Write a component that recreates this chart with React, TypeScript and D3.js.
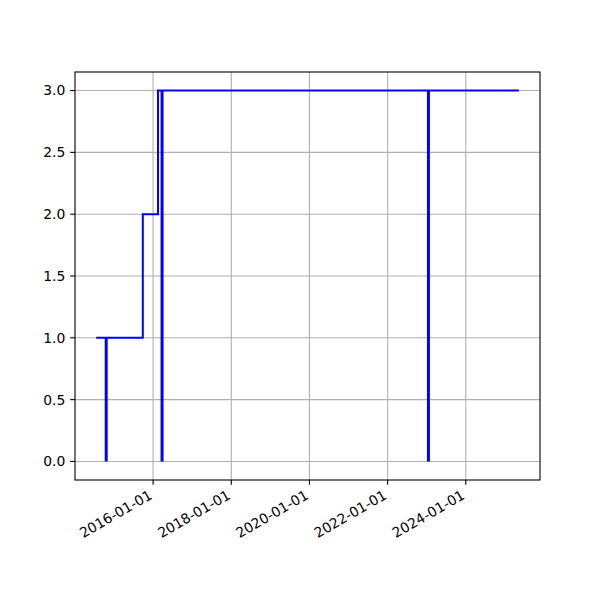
import React from "react";
import * as d3 from "d3";

const stepDates = ["2014-07-18", "2015-09-27", "2016-02-16", "2025-05-11"];
const stepValues = [1, 2, 3, 3];
const spikeDates = ["2014-10-20", "2016-03-25", "2023-01-17"];
const spikeTops = [1, 3, 3];
const yTicks = [0, 0.5, 1.0, 1.5, 2.0, 2.5, 3.0];
const xTickLabels = ["2016-01-01", "2018-01-01", "2020-01-01", "2022-01-01", "2024-01-01"];

const W = 600, H = 600;
const L = 75, R = 540, T = 72, B = 480;
const FONT = "DejaVu Sans, sans-serif";
const FS = 13.9;

export default function App() {
  const parse = d3.utcParse("%Y-%m-%d");
  const sd = stepDates.map((d) => parse(d)!);
  const kd = spikeDates.map((d) => parse(d)!);
  const all = [...sd, ...kd];
  const mn = d3.min(all)!.getTime();
  const mx = d3.max(all)!.getTime();
  const pad = (mx - mn) * 0.05;
  const x = d3.scaleUtc().domain([new Date(mn - pad), new Date(mx + pad)]).range([L, R]);
  const y = d3.scaleLinear().domain([-0.15, 3.15]).range([B, T]);

  const stepData = sd.map((d, i) => [d, stepValues[i]] as [Date, number]);
  const stepPath = d3
    .line<[Date, number]>()
    .x((d) => x(d[0]))
    .y((d) => y(d[1]))
    .curve(d3.curveStepAfter)(stepData)!;

  const xt = xTickLabels.map((s) => parse(s)!);

  return (
    <svg width={W} height={H} style={{ position: "absolute", left: 0, top: 0, background: "#fff" }}>
      <rect x={0} y={0} width={W} height={H} fill="#fff" />
      {/* grid */}
      {xt.map((d, i) => (
        <line key={"gx" + i} x1={x(d)} x2={x(d)} y1={T} y2={B} stroke="#b0b0b0" strokeWidth={1.1} />
      ))}
      {yTicks.map((v, i) => (
        <line key={"gy" + i} x1={L} x2={R} y1={y(v)} y2={y(v)} stroke="#b0b0b0" strokeWidth={1.1} />
      ))}
      {/* data */}
      <path d={stepPath} fill="none" stroke="#0000ff" strokeWidth={2} />
      {kd.map((d, i) => (
        <line key={"sp" + i} x1={x(d)} x2={x(d)} y1={y(0)} y2={y(spikeTops[i])} stroke="#0000ff" strokeWidth={3} />
      ))}
      {/* spines */}
      <rect x={L} y={T} width={R - L} height={B - T} fill="none" stroke="#000" strokeWidth={1.1} />
      {/* y ticks */}
      {yTicks.map((v, i) => (
        <g key={"yt" + i}>
          <line x1={L - 4.86} x2={L} y1={y(v)} y2={y(v)} stroke="#000" strokeWidth={1.1} />
          <text x={L - 9.7} y={y(v)} dy="0.35em" textAnchor="end" fontFamily={FONT} fontSize={FS} fill="#000">
            {v.toFixed(1)}
          </text>
        </g>
      ))}
      {/* x ticks */}
      {xt.map((d, i) => (
        <g key={"xt" + i}>
          <line x1={x(d)} x2={x(d)} y1={B} y2={B + 4.86} stroke="#000" strokeWidth={1.1} />
          <text
            transform={`translate(${x(d)},${B + 18}) rotate(-30)`}
            textAnchor="end"
            fontFamily={FONT}
            fontSize={FS}
            fill="#000"
          >
            {xTickLabels[i]}
          </text>
        </g>
      ))}
    </svg>
  );
}
